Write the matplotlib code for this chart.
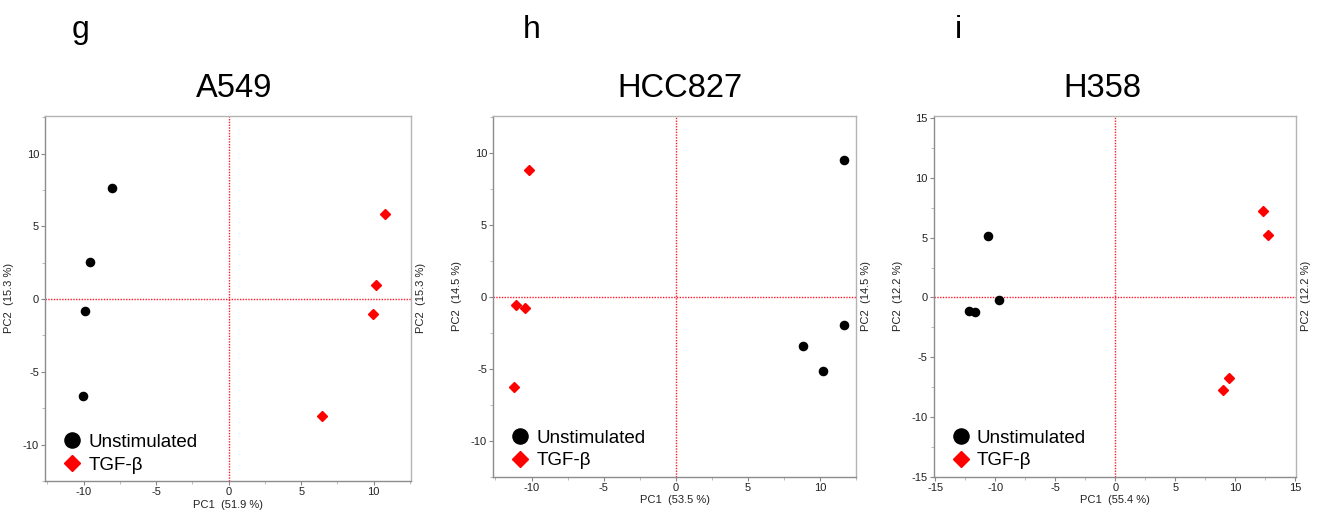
import matplotlib
matplotlib.use("Agg")
import matplotlib.pyplot as plt
from matplotlib.ticker import MultipleLocator

plt.rcParams['font.family'] = ['Liberation Sans', 'DejaVu Sans']
plt.rcParams['axes.unicode_minus'] = False

# PCA scores per cell line
panel_letters = ["g", "h", "i"]
cell_lines = ["A549", "HCC827", "H358"]
pc1_var = [51.9, 53.5, 55.4]
pc2_var = [15.3, 14.5, 12.2]

a549_unstim_x = [-8.06, -9.60, -9.92, -10.06]
a549_unstim_y = [7.61, 2.57, -0.83, -6.65]
a549_tgf_x = [10.79, 10.13, 9.97, 6.41]
a549_tgf_y = [5.83, 0.96, -1.01, -8.00]

hcc827_unstim_x = [11.68, 11.65, 8.83, 10.22]
hcc827_unstim_y = [9.49, -1.97, -3.41, -5.13]
hcc827_tgf_x = [-10.15, -11.10, -10.47, -11.19]
hcc827_tgf_y = [8.82, -0.56, -0.79, -6.26]

h358_unstim_x = [-10.58, -9.68, -12.20, -11.69]
h358_unstim_y = [5.11, -0.25, -1.14, -1.26]
h358_tgf_x = [12.31, 12.75, 9.43, 8.93]
h358_tgf_y = [7.26, 5.19, -6.75, -7.73]

group_labels = ["Unstimulated", "TGF-\u03b2"]

unstim = [(a549_unstim_x, a549_unstim_y), (hcc827_unstim_x, hcc827_unstim_y),
          (h358_unstim_x, h358_unstim_y)]
tgf = [(a549_tgf_x, a549_tgf_y), (hcc827_tgf_x, hcc827_tgf_y),
       (h358_tgf_x, h358_tgf_y)]

xlims = [(-12.65, 12.57), (-12.65, 12.5), (-15.1, 15.05)]
ylims = [(-12.5, 12.6), (-12.5, 12.6), (-15.0, 15.2)]
major_steps = [5, 5, 5]

W, H = 1327, 513
fig = plt.figure(figsize=(W / 100, H / 100), dpi=100)

# axes boxes in pixels: left, right, top, bottom
boxes = [(45.3, 411.0, 115.7, 481.0),
         (493.3, 856.0, 115.7, 476.7),
         (934.0, 1296.0, 115.7, 476.7)]
title_x = [234, 680, 1102]
letter_x = [72, 523, 955]

for k in range(3):
    l, r, t, b = boxes[k]
    ax = fig.add_axes([l / W, 1 - b / H, (r - l) / W, (b - t) / H])
    ux, uy = unstim[k]
    tx, ty = tgf[k]
    ax.axhline(0, color="#ff1a2a", lw=1.0, ls=(0, (1, 1)), zorder=1)
    ax.axvline(0, color="#ff1a2a", lw=1.0, ls=(0, (1, 1)), zorder=1)
    ax.plot(ux, uy, ls="none", marker="o", ms=5.9, color="black",
            mec="black", label=group_labels[0], zorder=3)
    ax.plot(tx, ty, ls="none", marker="D", ms=4.6, color="#ff0000",
            mec="#ff0000", label=group_labels[1], zorder=3)
    ax.set_xlim(*xlims[k])
    ax.set_ylim(*ylims[k])
    ax.xaxis.set_major_locator(MultipleLocator(major_steps[k]))
    ax.yaxis.set_major_locator(MultipleLocator(major_steps[k]))
    ax.xaxis.set_minor_locator(MultipleLocator(major_steps[k] / 2))
    ax.yaxis.set_minor_locator(MultipleLocator(major_steps[k] / 2))
    ax.tick_params(which="major", direction="out", length=3, width=0.8,
                   color="#888888", labelsize=8, labelcolor="#222222", pad=1.5)
    ax.tick_params(which="minor", direction="out", length=2, width=0.6,
                   color="#b0b0b0")
    for side in ("left", "bottom"):
        ax.spines[side].set_color("#8c8c8c")
        ax.spines[side].set_linewidth(1.0)
    for side in ("top", "right"):
        ax.spines[side].set_color("#b4b4b4")
        ax.spines[side].set_linewidth(1.0)

    ax.set_xlabel(f"PC1  ({pc1_var[k]} %)", fontsize=8, color="#222222")
    ax.set_ylabel(f"PC2  ({pc2_var[k]} %)", fontsize=8, color="#222222")
    ax.xaxis.set_label_coords(0.5, -0.052)
    ax.yaxis.set_label_coords(-0.085, 0.5)
    ax.text(1.028, 0.5, f"PC2  ({pc2_var[k]} %)", transform=ax.transAxes,
            rotation=90, ha="center", va="center", fontsize=8,
            color="#222222")

    ax.legend(loc="lower left", bbox_to_anchor=(0.048, 0.02), frameon=False,
              fontsize=13.5, handlelength=1.0, handletextpad=0.36,
              labelspacing=0.3, borderaxespad=0, borderpad=0,
              markerscale=1.85)

    fig.text(title_x[k] / W, 1 - 97 / H, cell_lines[k], ha="center",
             va="baseline", fontsize=23.5)
    fig.text(letter_x[k] / W, 1 - 38 / H, panel_letters[k], ha="left",
             va="baseline", fontsize=23)

fig.savefig("out.png", dpi=100)
